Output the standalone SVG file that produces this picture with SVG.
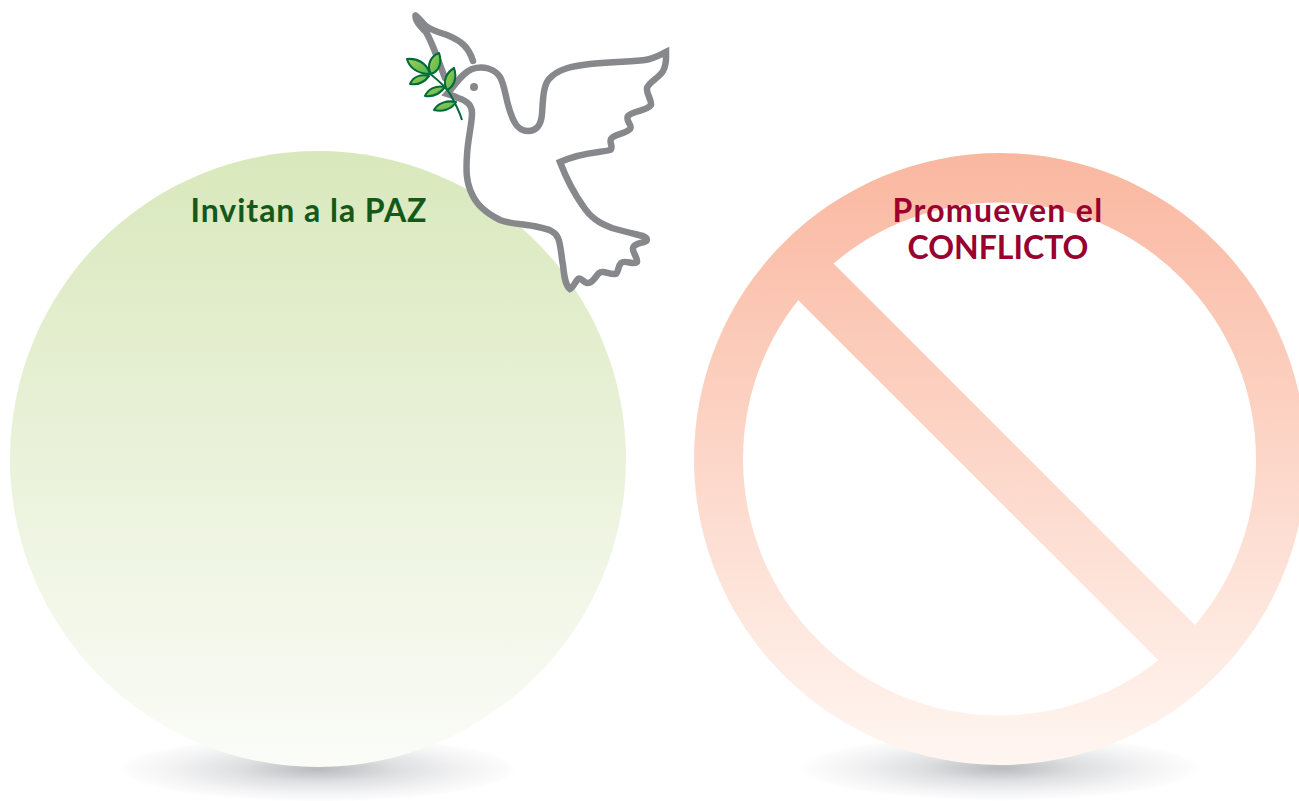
<svg xmlns="http://www.w3.org/2000/svg" width="1299" height="801" viewBox="0 0 1299 801">
<style>
.t{font-family:"Lato","Liberation Sans",sans-serif;font-size:32px;font-weight:700;text-anchor:middle}
.o{fill:#fff;stroke:#87888c;stroke-width:6.5;stroke-linejoin:miter;stroke-linecap:round}
.l{fill:url(#lf);stroke:#006b3a;stroke-width:2.1;stroke-linejoin:round}
</style>
<defs>
<linearGradient id="g" gradientUnits="userSpaceOnUse" x1="0" y1="151" x2="0" y2="767"><stop offset="0" stop-color="#d9e8bc"/><stop offset="1" stop-color="#fbfcf8"/></linearGradient>
<linearGradient id="r" gradientUnits="userSpaceOnUse" x1="0" y1="153" x2="0" y2="765"><stop offset="0" stop-color="#fab7a0"/><stop offset="1" stop-color="#fff6f1"/></linearGradient>
<radialGradient id="s"><stop offset="0" stop-color="#b8babe"/><stop offset=".4" stop-color="#dfe0e2"/><stop offset=".75" stop-color="#f4f4f5"/><stop offset=".95" stop-color="#fcfcfc"/><stop offset="1" stop-color="#fff" stop-opacity="0"/></radialGradient>
<linearGradient id="lf" x1="0" y1="0" x2="1" y2="1"><stop offset="0" stop-color="#a2d05a"/><stop offset="1" stop-color="#4fb348"/></linearGradient>
</defs>
<g id="shadow-left"><ellipse cx="318.500" cy="769" rx="201" ry="33" fill="url(#s)"/></g>
<g id="shadow-right"><ellipse cx="1000" cy="768" rx="201" ry="33" fill="url(#s)"/></g>
<g id="paz"><circle cx="318" cy="459" r="308" fill="url(#g)"/><text class="t" x="309" y="222" fill="#14591a" letter-spacing="0.95">Invitan a la PAZ</text></g>
<g id="conflicto">
<path fill="url(#r)" fill-rule="evenodd" d="M694 459a306 306 0 1 0 612 0a306 306 0 1 0 -612 0ZM743 459a256.500 256.500 0 1 0 513 0a256.500 256.500 0 1 0 -513 0Z"/>
<polygon fill="url(#r)" points="822,252 1205,635 1172,674 787,289"/>
<text class="t" x="998" y="222" fill="#990030" letter-spacing="1.3">Promueven el</text>
<text class="t" x="998" y="259" fill="#990030">CONFLICTO</text>
</g>
<g id="paloma">
<path class="o" style="fill:none;stroke-linejoin:round" d="M473 61C469 48 462 41 447 35C438 32 431 30 426 26C422 23 419 18 415.500 15.500C415 20 419 25 426 32C433 44 438 60 445 78"/>
<path class="o" d="M447 94C456 84 462 73 472 69C483 65 495 69 500 77C505 85 506 102 511 114C515 126 520 131 528 131C537 131 541 125 542 114C543 100 543 86 549 79C558 69 572 66 590 64C610 62 630 62 645 60C653 59 660 55 666 52C666 58 667 64 663 71C659 78 649 82 647 88C646 94 652 100 651 105C647 111 632 111 628 116C625 121 633 125 630 129C626 134 614 134 611 139C609 143 614 148 610 150C600 153 585 151 560 162C565 175 573 192 583 206C591 218 599 223 612 228C622 231 635 234 643 236C648 238 648 241 644 242C640 243 634 244 633 248C632 252 638 258 637 262C634 266 625 259 621 263C617 267 619 275 614 274C608 274 603 270 599 273C595 277 592 284 587 283C583 282 581 277 578 279C575 282 573 288 570 289C565 285 564 275 563 265C561 255 561 245 558 238C555 231 548 229 538 227C525 224 510 224 500 220C488 214 477 206 472 194C466 182 466 170 467 155C468 138 472 124 472 113C472 104 465 100 458 98C454 96 450 95 447 94Z"/>
<circle cx="474" cy="87" r="4" fill="#87888c"/>
<path d="M429 73C438 80 446 87 450 94C455 103 459 110 462 120" fill="none" stroke="#006b3a" stroke-width="2"/>
<path class="l" d="M430 74C417 74 409 67 407 59C417 58 427 63 430 74Z"/>
<path class="l" d="M431 74C426 65 431 56 439 53C442 62 440 71 431 74Z"/>
<path class="l" d="M429 76C423 84 416 85 410 84C413 77 420 74 429 76Z"/>
<path class="l" d="M447 90C442 81 447 72 454 68C457 77 455 86 447 90Z"/>
<path class="l" d="M445 87C439 95 432 97 425 96C428 89 436 85 445 87Z"/>
<path class="l" d="M456 102C451 110 442 112 434 110C438 103 447 100 456 102Z"/>
</g>
</svg>
